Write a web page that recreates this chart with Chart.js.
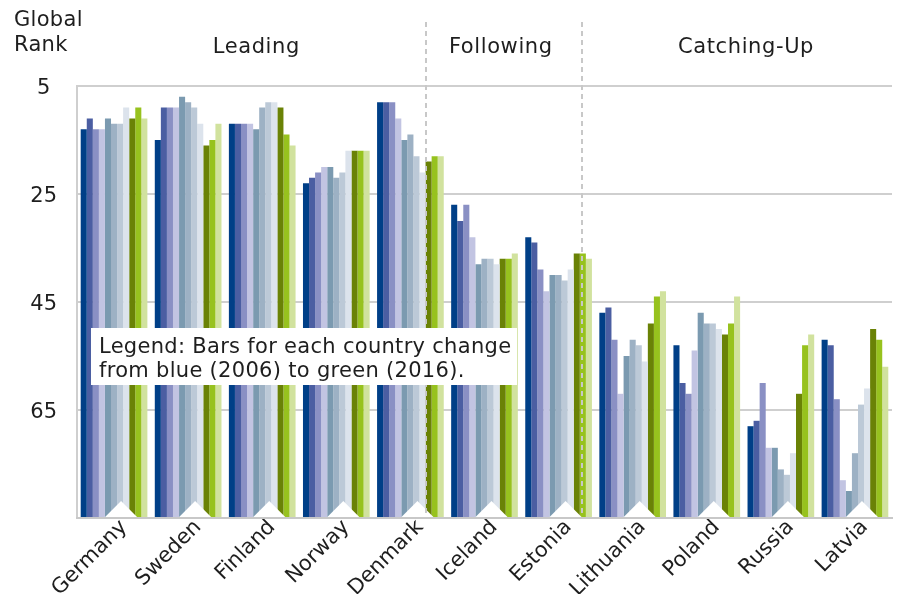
<!DOCTYPE html>
<html>
<head>
<meta charset="utf-8">
<script src="https://cdn.jsdelivr.net/npm/chart.js@4.4.1/dist/chart.umd.min.js"></script>
<style>
  html, body { margin: 0; padding: 0; background: #fff; }
</style>
</head>
<body>
<canvas id="myChart" width="897" height="594"></canvas>
<script>
// Countries on the x axis
var countries = ["Germany", "Sweden", "Finland", "Norway", "Denmark", "Iceland",
                 "Estonia", "Lithuania", "Poland", "Russia", "Latvia"];

// Global rank per year, one value per country (same order as above)
var rank2006 = [13, 15, 12, 23, 8, 27, 33, 47, 53, 68, 52];
var rank2007 = [11, 9, 12, 22, 8, 30, 34, 46, 60, 67, 53];
var rank2008 = [13, 9, 12, 21, 8, 27, 39, 52, 62, 60, 63];
var rank2009 = [13, 9, 12, 20, 11, 33, 43, 62, 54, 72, 78];
var rank2010 = [11, 7, 13, 20, 15, 38, 40, 55, 47, 72, 80];
var rank2011 = [12, 8, 9, 22, 14, 37, 40, 52, 49, 76, 73];
var rank2012 = [12, 9, 8, 21, 18, 37, 41, 53, 49, 77, 64];
var rank2013 = [9, 12, 8, 17, 21, 38, 39, 56, 50, 73, 61];
var rank2014 = [11, 16, 9, 17, 19, 37, 36, 49, 51, 62, 50];
var rank2015 = [9, 15, 14, 17, 18, 37, 36, 44, 49, 53, 52];
var rank2016 = [11, 12, 16, 17, 18, 36, 37, 43, 44, 51, 57];

var years = ["2006", "2007", "2008", "2009", "2010", "2011", "2012", "2013", "2014", "2015", "2016"];
var yearRanks = [rank2006, rank2007, rank2008, rank2009, rank2010, rank2011,
                 rank2012, rank2013, rank2014, rank2015, rank2016];

// Tick labels on the rank axis
var rankTicks = [5, 25, 45, 65];
var rankBottom = 85;

// Country groups
var groupNames = ["Leading", "Following", "Catching-Up"];

// Bar colours: blue (2006) to green (2016)
var yearColors = ["#003f87", "#4b5ea2", "#8a90c4", "#c2c4e2", "#7b9ab0", "#9db1c4",
                  "#bcc9d7", "#dce3ec", "#6a8206", "#97c21e", "#d1e29e"];

var textFont = "DejaVu Sans";
var textColor = "#1e1e1e";

// Extra text, divider lines, label notches and the legend note
var overlay = {
    id: "overlay",
    afterDatasetsDraw: function (chart) {
        var ctx = chart.ctx;
        var x = chart.scales.x;
        var area = chart.chartArea;
        ctx.save();

        // white notches behind the rotated country labels
        ctx.fillStyle = "#ffffff";
        countries.forEach(function (c, i) {
            var px = x.getPixelForTick(i) + 7;
            ctx.beginPath();
            ctx.moveTo(px - 17, area.bottom);
            ctx.lineTo(px, area.bottom - 17);
            ctx.lineTo(px + 17, area.bottom);
            ctx.closePath();
            ctx.fill();
        });

        // dashed dividers between the groups
        ctx.strokeStyle = "#c8c8c8";
        ctx.lineWidth = 2;
        ctx.setLineDash([5, 4]);
        [4.21, 6.32].forEach(function (p) {
            var px = Math.round(x.getPixelForValue(p));
            ctx.beginPath();
            ctx.moveTo(px, 22);
            ctx.lineTo(px, area.bottom);
            ctx.stroke();
        });
        ctx.setLineDash([]);

        ctx.fillStyle = textColor;
        ctx.font = "21px '" + textFont + "'";

        // group titles
        ctx.textAlign = "center";
        ctx.textBaseline = "alphabetic";
        ctx.letterSpacing = "0.6px";
        [1.92, 5.22, 8.53].forEach(function (p, i) {
            ctx.fillText(groupNames[i], x.getPixelForValue(p), 53);
        });

        // axis title
        ctx.textAlign = "left";
        ctx.letterSpacing = "0.3px";
        ctx.fillText("Global", 14, 26);
        ctx.fillText("Rank", 14, 51);

        // legend note
        ctx.fillStyle = "#ffffff";
        ctx.fillRect(91, 328, 426, 57);
        ctx.fillStyle = textColor;
        ctx.letterSpacing = "0.3px";
        ctx.fillText("Legend: Bars for each country change", 99, 353);
        ctx.fillText("from blue (2006) to green (2016).", 99, 377);

        ctx.restore();
    }
};

var ctx = document.getElementById("myChart").getContext("2d");

var myChart = new Chart(ctx, {
    type: "bar",
    data: {
        labels: countries,
        datasets: years.map(function (y, i) {
            return {
                label: y,
                data: yearRanks[i],
                base: rankBottom,
                backgroundColor: yearColors[i],
                borderWidth: 0,
                categoryPercentage: 0.9,
                barPercentage: 1.0
            };
        })
    },
    options: {
        responsive: false,
        animation: false,
        layout: { padding: { top: 86, right: 5, left: 0, bottom: 0 } },
        plugins: {
            legend: { display: false },
            tooltip: { enabled: false }
        },
        scales: {
            x: {
                grid: { display: false, drawTicks: false },
                border: { display: true, color: "#c8c8c8", width: 2, z: 2 },
                ticks: {
                    font: { family: textFont, size: 21 },
                    color: textColor,
                    minRotation: 45,
                    maxRotation: 45,
                    autoSkip: false,
                    padding: -3,
                    labelOffset: 1,
                    showLabelBackdrop: true,
                    backdropColor: "rgba(255,255,255,0)",
                    z: 1
                },
                afterFit: function (scale) { scale.height = 76; }
            },
            y: {
                reverse: true,
                min: rankTicks[0],
                max: rankBottom,
                afterBuildTicks: function (scale) {
                    scale.ticks = rankTicks.concat([rankBottom]).map(function (v) { return { value: v }; });
                },
                ticks: {
                    font: { family: textFont, size: 21 },
                    color: textColor,
                    padding: 20,
                    labelOffset: 3,
                    crossAlign: "center",
                    callback: function (v) { return v === rankBottom ? "" : v; }
                },
                grid: { color: "#cfcfcf", lineWidth: 2, drawTicks: false },
                border: { display: true, color: "#cfcfcf", width: 2 },
                afterFit: function (scale) { scale.width = 77; }
            }
        }
    },
    plugins: [overlay]
});
</script>
</body>
</html>
